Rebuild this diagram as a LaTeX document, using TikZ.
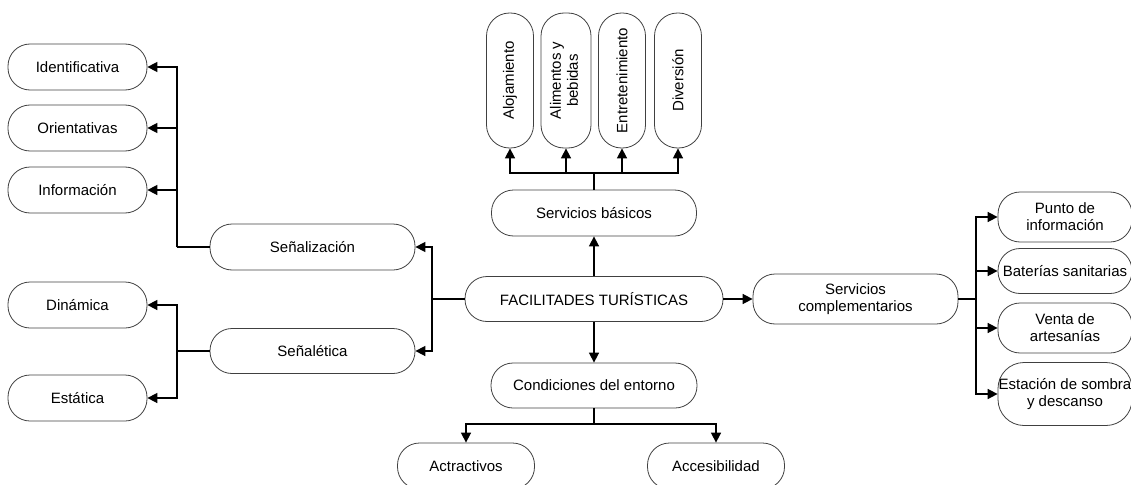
\documentclass[tikz,border=0pt]{standalone}
\usepackage{fontspec}
\setmainfont{Liberation Sans}
\usetikzlibrary{arrows.meta}
\tikzset{>={Triangle[width=10pt,length=10pt]}}
\tikzset{
  pill/.style={draw=black!75, line width=0.8pt, rounded corners=22pt, align=center,
    inner sep=2pt, minimum height=46pt},
  post/.style={draw=black!75, line width=0.8pt, rounded corners=23pt, align=center,
    inner sep=0pt, minimum width=47pt, minimum height=135pt},
  link/.style={line width=1.6pt},
}

\begin{document}
\begin{tikzpicture}[x=1pt, y=-1pt]
  \fontsize{15}{17}\selectfont
  \useasboundingbox (0,0) rectangle (1131,484);

  %% centre
  \node[pill, minimum width=258pt, minimum height=45pt] (fac) at (594,299) {FACILITADES TURÍSTICAS};

  %% servicios basicos
  \node[pill, minimum width=205pt] (bas) at (594,213) {Servicios básicos};
  \node[post] (aloj) at (510,80.5) {\rotatebox{90}{Alojamiento}};
  \node[post, minimum width=50pt] (alim) at (566,80.5) {\rotatebox{90}{\begin{tabular}{@{}c@{}}Alimentos y\\bebidas\end{tabular}}};
  \node[post] (entr) at (622,80.5) {\rotatebox{90}{Entretenimiento}};
  \node[post] (dive) at (678,80.5) {\rotatebox{90}{Diversión}};

  %% condiciones del entorno
  \node[pill, minimum width=206pt, minimum height=45pt] (cond) at (594,385.5) {Condiciones del entorno};
  \node[pill, minimum width=137pt] (actr) at (466,466) {Actractivos};
  \node[pill, minimum width=137pt] (acce) at (716,466) {Accesibilidad};

  %% senalizacion / senaletica
  \node[pill, minimum width=205pt] (senz) at (312.5,247) {Señalización};
  \node[pill, minimum width=205pt, minimum height=45pt] (send) at (312.5,351) {Señalética};
  \node[pill, minimum width=139pt] (iden) at (77.5,67) {Identificativa};
  \node[pill, minimum width=139pt] (orie) at (77.5,128) {Orientativas};
  \node[pill, minimum width=139pt] (info) at (77.5,190) {Información};
  \node[pill, minimum width=139pt] (dina) at (77.5,305) {Dinámica};
  \node[pill, minimum width=139pt] (esta) at (77.5,398) {Estática};

  %% servicios complementarios
  \node[pill, minimum width=205pt, minimum height=50pt] (comp) at (855.5,299) {Servicios\\complementarios};
  \node[pill, minimum width=134pt, minimum height=50pt] (punt) at (1065,217) {Punto de\\información};
  \node[pill, minimum width=134pt, minimum height=45pt] (bate) at (1065,271) {Baterías sanitarias};
  \node[pill, minimum width=134pt, minimum height=50pt] (vent) at (1065,328) {Venta de\\artesanías};
  \node[pill, minimum width=134pt, minimum height=63pt, rounded corners=26pt, inner sep=0pt] (esto) at (1065,394) {Estación de sombra\\y descanso};

  %% junctions
  \coordinate (jb) at (594,173);
  \coordinate (jc) at (594,424);
  \coordinate (jl) at (432,299);
  \coordinate (jz) at (177,247);
  \coordinate (jd) at (177,351);
  \coordinate (jr) at (976,299);

  \draw[link,->] (fac) -- (bas); %% up
  \draw[link,->] (fac) -- (cond); %% down
  \draw[link,->] (fac) -- (comp); %% right
  \draw[link] (fac.west) -- (jl);
  \draw[link,->] (jl) |- (senz.east);
  \draw[link,->] (jl) |- (send.east);

  \draw[link] (bas.north) -- (jb);
  \draw[link,->] (jb) -| (aloj.south);
  \draw[link,->] (jb) -| (alim.south);
  \draw[link,->] (jb) -| (entr.south);
  \draw[link,->] (jb) -| (dive.south);

  \draw[link] (cond.south) -- (jc);
  \draw[link,->] (jc) -| (actr.north);
  \draw[link,->] (jc) -| (acce.north);

  \draw[link] (senz.west) -- (jz);
  \draw[link,->] (jz) |- (iden.east);
  \draw[link,->] (jz) |- (orie.east);
  \draw[link,->] (jz) |- (info.east);

  \draw[link] (send.west) -- (jd);
  \draw[link,->] (jd) |- (dina.east);
  \draw[link,->] (jd) |- (esta.east);

  \draw[link] (comp.east) -- (jr);
  \draw[link,->] (jr) |- (punt.west);
  \draw[link,->] (jr) |- (bate.west);
  \draw[link,->] (jr) |- (vent.west);
  \draw[link,->] (jr) |- (esto.west);

\end{tikzpicture}
\end{document}
